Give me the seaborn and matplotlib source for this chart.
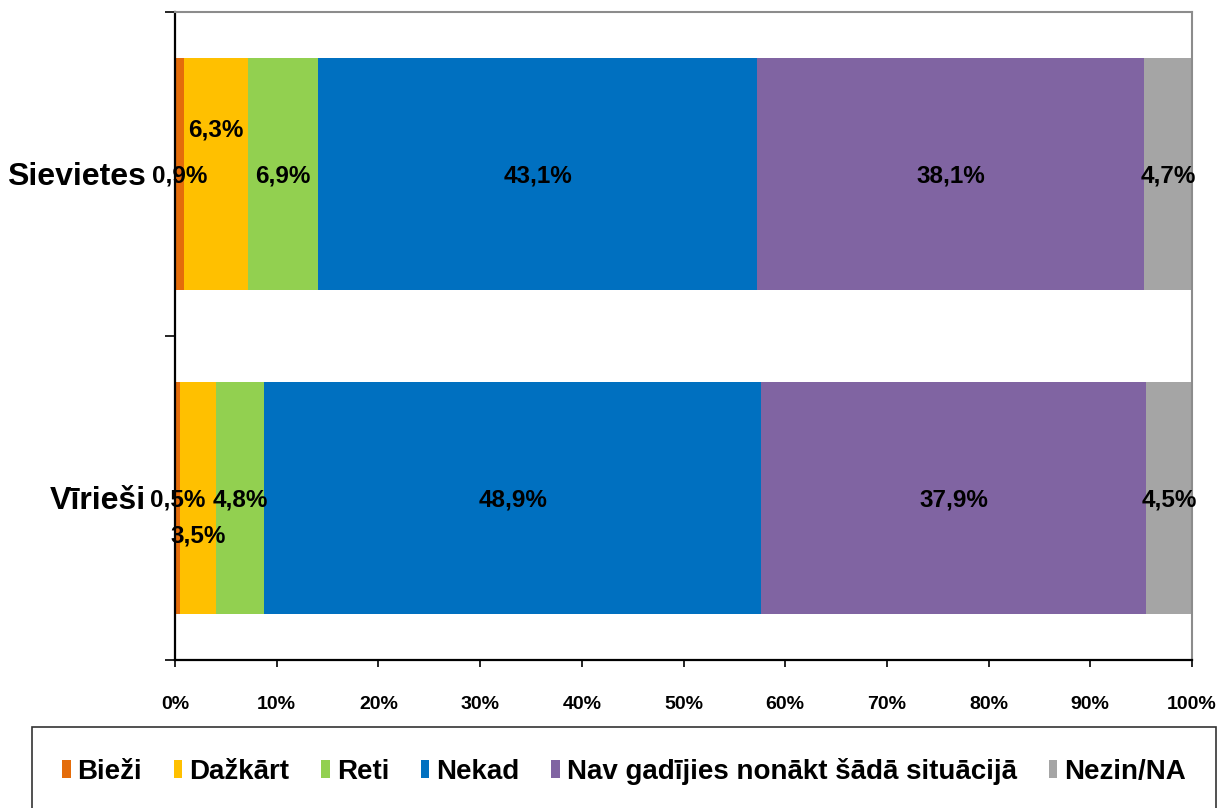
import matplotlib
matplotlib.use('Agg')
import matplotlib.pyplot as plt
import numpy as np
import pandas as pd
import seaborn as sns
from matplotlib.patches import Patch
from matplotlib.ticker import FuncFormatter, FixedLocator

sns.set_style('white')
plt.rcParams['font.family'] = ['Liberation Sans', 'DejaVu Sans']
plt.rcParams['font.weight'] = 'bold'
plt.rcParams['text.color'] = 'black'
plt.rcParams['xtick.color'] = 'black'
plt.rcParams['ytick.color'] = 'black'

# Dati
grupas = ['Sievietes', 'Vīrieši']
atbildes = ['Bieži', 'Dažkārt', 'Reti', 'Nekad', 'Nav gadījies nonākt šādā situācijā', 'Nezin/NA']
sievietes = [0.9, 6.3, 6.9, 43.1, 38.1, 4.7]
virieshi = [0.5, 3.5, 4.8, 48.9, 37.9, 4.5]
krasas = ['#E46C0A', '#FFC000', '#92D050', '#0070C0', '#8064A2', '#A5A5A5']

df = pd.DataFrame([sievietes, virieshi], index=grupas, columns=atbildes)
# 100% sakrautās joslas
dala = df.div(df.sum(axis=1), axis=0)
kumul = dala.cumsum(axis=1)

fig = plt.figure(figsize=(12.23, 8.08), dpi=100)
ax = fig.add_axes([175/1223, 1 - 660/808, (1192 - 175)/1223, (660 - 12)/808])

# zīmē no garākās uz īsāko, lai joslas pārklātos kā sakrautas
for i in range(len(atbildes) - 1, -1, -1):
    sns.barplot(x=kumul.iloc[:, i].values, y=grupas, color=krasas[i],
                orient='h', width=0.716, linewidth=0, saturation=1, ax=ax)

ax.set_xlim(0, 1)
ax.set_ylim(1.5, -0.5)
ax.set_xlabel('')
ax.set_ylabel('')

# x ass
ax.xaxis.set_major_locator(FixedLocator(np.linspace(0, 1, 11)))
ax.xaxis.set_major_formatter(FuncFormatter(lambda v, p: f'{v*100:.0f}%'))
ax.tick_params(axis='x', direction='out', length=5, width=1.2, pad=21,
               labelsize=14, bottom=True)

# y ass - kategoriju robežas
ax.set_yticks([0, 1])
ax.set_yticklabels(grupas, fontsize=23, fontweight='bold', va='center_baseline')
ax.tick_params(axis='y', length=0, pad=21)
ax.yaxis.set_minor_locator(FixedLocator([-0.5, 0.5, 1.5]))
ax.tick_params(axis='y', which='minor', direction='out', length=7, width=1.2, left=True)

for s in ['left', 'bottom']:
    ax.spines[s].set_color('black')
    ax.spines[s].set_linewidth(1.6)
for s in ['top', 'right']:
    ax.spines[s].set_color('#8C8C8C')
    ax.spines[s].set_linewidth(1.5)

# datu etiķetes (dažas pabīdītas kā oriģinālā)
nobide = {(0, 1): -0.142, (1, 1): 0.111}
for gi, g in enumerate(grupas):
    for ai in range(len(atbildes)):
        v = df.iloc[gi, ai]
        centrs = kumul.iloc[gi, ai] - dala.iloc[gi, ai] / 2
        y = gi + nobide.get((gi, ai), 0)
        ax.text(centrs, y, f'{v:.1f}%'.replace('.', ','), ha='center', va='center_baseline',
                fontsize=17.5, fontweight='bold', color='black', clip_on=False)

# leģenda
rokturi = [Patch(facecolor=c, edgecolor='none') for c in krasas]
leg = fig.legend(rokturi, atbildes, loc='upper center', ncol=6,
                 bbox_to_anchor=(624/1223, 1 - 727/808),
                 frameon=True, fancybox=False, borderpad=1.1, borderaxespad=0,
                 handlelength=0.3, handleheight=0.6, handletextpad=0.25,
                 columnspacing=1.15, prop={'size': 20, 'weight': 'bold'})
leg.get_frame().set_edgecolor('black')
leg.get_frame().set_linewidth(1.2)

fig.savefig('out.png', dpi=100)
